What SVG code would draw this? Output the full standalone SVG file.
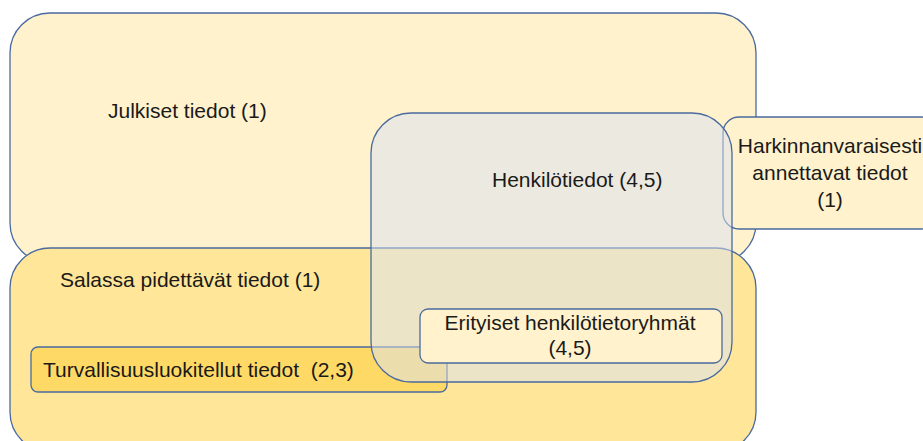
<svg xmlns="http://www.w3.org/2000/svg" width="923" height="441" viewBox="0 0 923 441">
<style>
.box{stroke:#4A6A9F;stroke-width:1.3}
.t{font-family:"Liberation Sans",Arial,sans-serif;font-size:21px;fill:#1a1a1a;white-space:pre}
.c{text-anchor:middle}
</style>
<rect width="923" height="441" fill="#ffffff"/>
<g id="julkiset">
<rect class="box" x="10" y="13" width="746" height="250" rx="40" ry="40" fill="#FFF2CC"/>
<text class="t" x="108" y="118">Julkiset tiedot (1)</text>
</g>
<g id="salassa">
<rect class="box" x="10" y="248" width="746" height="204" rx="40" ry="40" fill="#FFE699"/>
<text class="t" x="60" y="287">Salassa pidettävät tiedot (1)</text>
</g>
<g id="harkinnanvaraisesti">
<rect class="box" x="723" y="117" width="215" height="112" rx="16" ry="16" fill="#FFF2CC"/>
<text class="t c" x="830" y="153">Harkinnanvaraisesti</text>
<text class="t c" x="830" y="180">annettavat tiedot</text>
<text class="t c" x="830" y="207">(1)</text>
</g>
<g id="turvallisuus">
<rect class="box" x="31" y="347" width="416" height="45" rx="7" ry="7" fill="#FFD966"/>
<text class="t" x="43" y="377">Turvallisuusluokitellut tiedot  (2,3)</text>
</g>
<g id="henkilotiedot">
<rect class="box" x="371" y="113" width="361" height="269" rx="40" ry="40" fill="#D9E2F3" fill-opacity="0.5"/>
<text class="t" x="492" y="187">Henkilötiedot (4,5)</text>
</g>
<g id="erityiset">
<rect class="box" x="420" y="309" width="302" height="54" rx="8" ry="8" fill="#FFF2CC"/>
<text class="t c" x="570" y="330">Erityiset henkilötietoryhmät</text>
<text class="t c" x="570" y="355">(4,5)</text>
</g>
<g id="connectors"></g>
</svg>
